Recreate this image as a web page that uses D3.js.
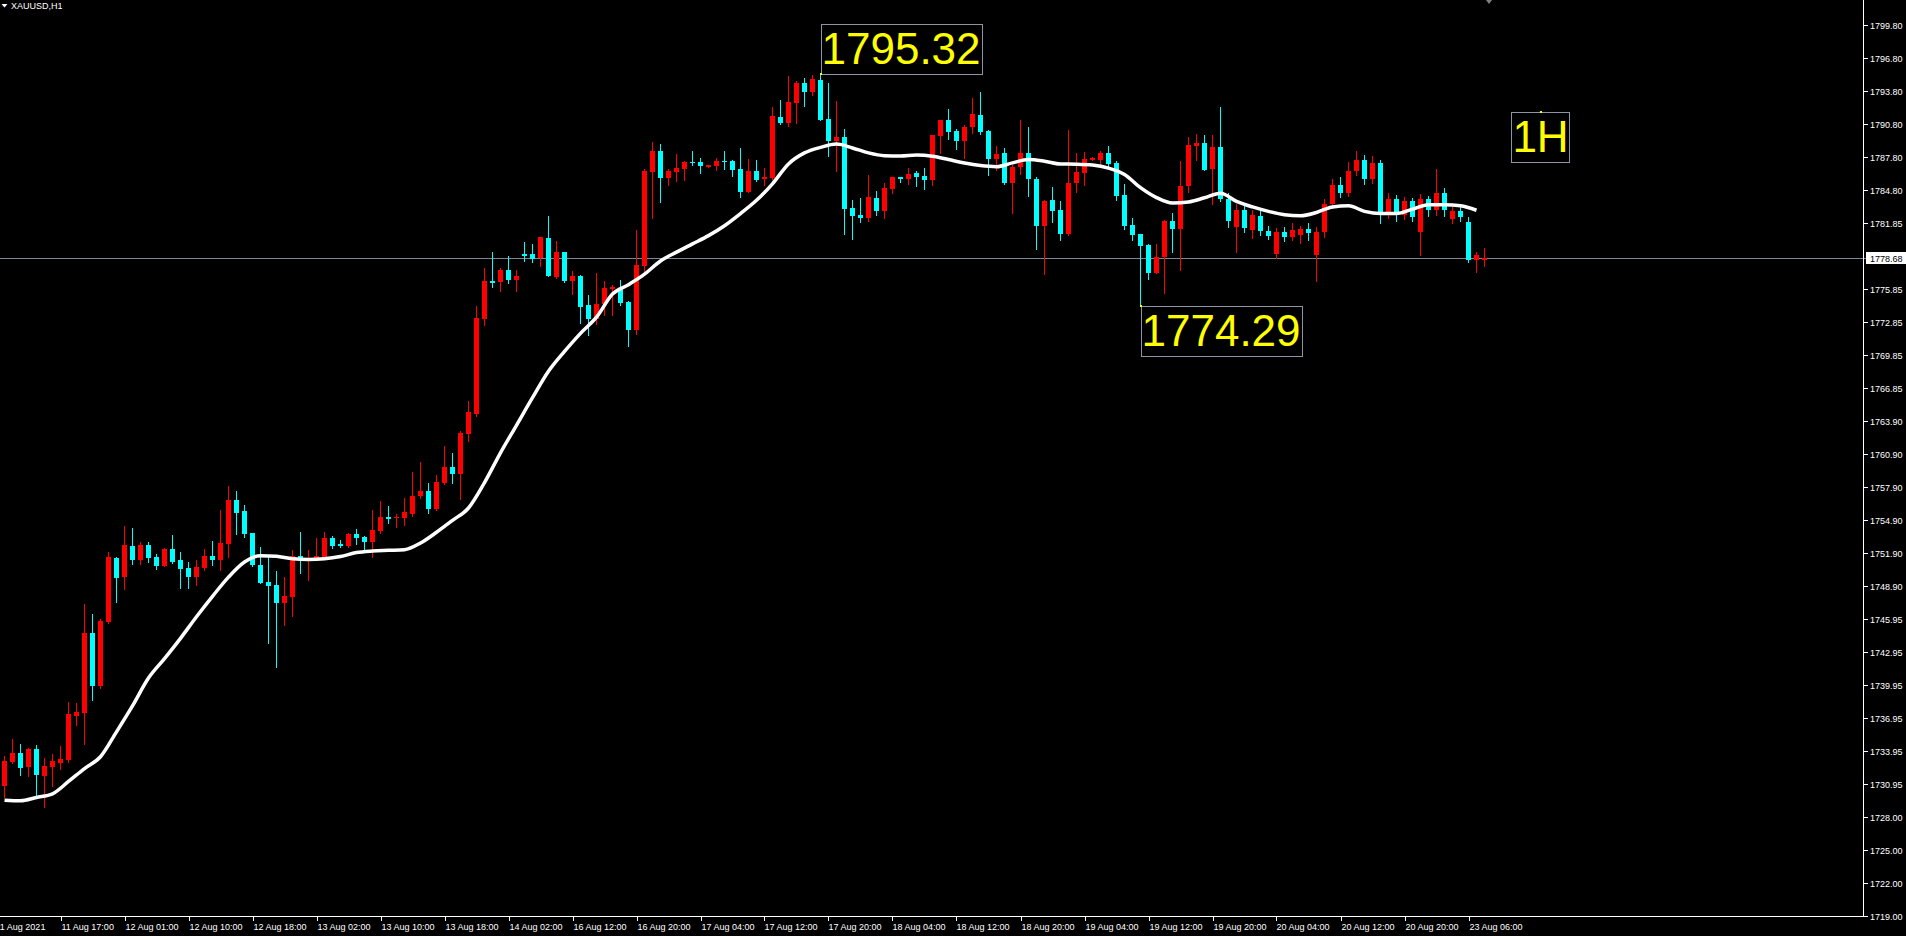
<!DOCTYPE html>
<html><head><meta charset="utf-8">
<script src="https://cdn.jsdelivr.net/npm/d3@7/dist/d3.min.js"></script>
<style>html,body{margin:0;padding:0;background:#000;overflow:hidden}</style>
</head><body><svg id="c" width="1906" height="936"></svg>
<script>
const symbolTitle = "XAUUSD,H1";
const open = [1730.81,1732.99,1733.78,1732.54,1734.14,1731.72,1732.54,1732.87,1733.17,1737.13,1737.43,1744.66,1739.88,1745.69,1751.46,1749.74,1752.55,1751.28,1752.64,1751.55,1750.73,1752.28,1751.28,1750.55,1749.77,1750.58,1751.64,1751.31,1752.76,1756.72,1755.72,1753.73,1750.82,1749.28,1749.01,1747.41,1747.95,1751.64,1751.20,1751.43,1751.58,1753.28,1752.76,1752.58,1753.64,1753.37,1752.94,1753.91,1755.18,1755.12,1755.12,1755.45,1757.12,1757.54,1755.91,1758.27,1759.72,1759.08,1762.71,1764.52,1773.14,1776.58,1776.46,1777.58,1776.67,1779.03,1779.03,1778.70,1780.48,1776.95,1779.21,1776.61,1777.04,1774.41,1773.17,1774.50,1775.86,1775.95,1774.68,1772.14,1777.94,1786.47,1788.37,1785.92,1786.47,1786.74,1787.37,1787.37,1786.92,1787.01,1787.46,1787.46,1786.74,1784.65,1786.56,1785.83,1785.92,1791.45,1790.91,1792.72,1794.54,1793.72,1794.81,1791.27,1789.28,1789.64,1783.20,1782.57,1782.29,1784.11,1782.93,1784.92,1786.01,1785.83,1786.38,1786.10,1785.74,1789.73,1791.18,1790.18,1789.28,1790.55,1791.64,1790.18,1787.65,1788.19,1785.47,1786.92,1788.19,1785.84,1781.57,1783.93,1783.02,1780.85,1785.47,1786.38,1787.56,1787.56,1788.19,1787.29,1784.38,1781.66,1780.85,1779.85,1777.31,1778.76,1782.03,1781.30,1785.20,1788.83,1789.10,1786.74,1788.74,1784.00,1781.50,1783.00,1781.20,1782.50,1781.10,1779.00,1781.00,1780.60,1780.80,1781.30,1778.90,1781.00,1783.60,1785.30,1784.60,1786.60,1787.60,1785.80,1787.30,1782.80,1784.00,1782.60,1783.80,1781.00,1784.00,1783.00,1784.60,1782.20,1782.90,1781.90,1778.50,1778.50];
const high = [1733.50,1735.05,1734.59,1734.23,1734.50,1733.32,1733.68,1734.41,1738.40,1738.31,1747.29,1746.38,1745.93,1752.00,1751.55,1754.36,1754.15,1752.91,1752.91,1751.82,1752.34,1753.55,1752.00,1751.10,1751.28,1752.28,1753.03,1755.81,1758.02,1757.54,1756.27,1753.73,1752.46,1751.55,1750.28,1749.74,1752.18,1753.82,1752.18,1753.28,1753.82,1753.46,1753.10,1753.73,1754.09,1753.46,1755.82,1756.63,1756.18,1755.45,1756.91,1759.26,1760.17,1758.27,1758.99,1761.62,1760.99,1762.98,1765.70,1774.32,1777.76,1779.21,1777.73,1778.85,1777.58,1780.12,1779.94,1780.57,1782.48,1780.21,1779.21,1777.49,1777.13,1775.31,1777.31,1776.58,1776.22,1776.67,1774.77,1781.21,1786.74,1789.19,1789.00,1786.74,1788.10,1787.46,1788.37,1787.73,1787.10,1787.73,1788.37,1787.55,1788.64,1787.64,1787.55,1786.83,1792.36,1792.99,1795.17,1794.72,1794.99,1795.26,1795.32,1794.54,1792.91,1790.37,1783.93,1784.11,1786.19,1784.74,1785.47,1786.01,1786.01,1786.83,1786.56,1786.83,1789.82,1791.18,1792.18,1790.37,1790.73,1793.18,1793.72,1790.28,1788.82,1788.64,1787.10,1791.18,1790.55,1786.02,1783.93,1785.11,1783.84,1790.28,1788.19,1788.28,1787.83,1788.37,1788.83,1787.47,1785.38,1782.30,1780.85,1779.94,1779.94,1782.12,1782.75,1787.47,1789.64,1789.92,1789.83,1789.83,1792.36,1784.60,1783.60,1783.50,1783.00,1782.90,1781.60,1781.40,1781.50,1781.80,1781.60,1781.80,1781.50,1784.00,1785.80,1786.00,1787.40,1788.40,1788.00,1787.90,1787.60,1784.60,1784.40,1784.20,1784.10,1784.50,1784.30,1786.70,1785.00,1783.30,1783.30,1782.40,1779.20,1779.60];
const low = [1729.82,1732.84,1731.78,1731.72,1729.91,1728.91,1730.81,1732.35,1732.99,1736.31,1734.62,1738.61,1739.70,1745.57,1747.50,1748.68,1750.95,1750.95,1751.10,1750.49,1750.73,1751.01,1748.77,1748.77,1749.04,1750.40,1750.85,1750.40,1751.58,1753.67,1753.39,1750.76,1749.22,1743.78,1741.60,1745.41,1746.23,1750.13,1749.49,1751.43,1751.43,1752.40,1752.49,1752.49,1752.76,1752.13,1751.58,1753.73,1754.64,1754.27,1754.46,1755.27,1756.94,1755.54,1755.82,1758.17,1758.27,1756.81,1762.07,1764.34,1772.59,1776.07,1775.71,1776.43,1775.71,1778.43,1778.31,1777.97,1777.07,1776.85,1776.52,1775.40,1772.77,1771.69,1772.68,1773.50,1773.50,1774.41,1770.72,1771.78,1777.49,1782.29,1783.74,1785.29,1785.65,1785.74,1787.10,1786.37,1786.92,1786.65,1786.74,1786.10,1784.20,1784.65,1785.65,1785.29,1785.83,1790.82,1790.64,1790.91,1792.45,1793.45,1791.18,1787.92,1786.56,1780.84,1780.39,1781.93,1782.02,1782.57,1782.29,1784.56,1785.56,1785.38,1785.20,1784.92,1785.29,1788.16,1789.46,1788.55,1787.74,1790.00,1789.91,1786.19,1786.65,1785.38,1782.75,1786.29,1784.29,1779.49,1777.25,1781.94,1780.30,1780.76,1784.66,1785.29,1787.56,1787.11,1787.01,1783.93,1781.30,1780.30,1774.29,1776.77,1777.31,1775.50,1779.22,1777.58,1784.66,1787.56,1786.65,1783.57,1783.80,1781.50,1779.20,1781.00,1780.50,1780.80,1780.40,1778.70,1780.20,1780.30,1780.00,1780.30,1776.60,1780.60,1783.20,1784.20,1784.30,1786.20,1785.40,1785.50,1781.80,1782.30,1782.00,1782.20,1782.00,1778.90,1782.50,1782.60,1782.50,1781.80,1782.00,1778.30,1777.40,1777.90];
const close = [1733.05,1733.78,1732.45,1734.14,1731.78,1732.60,1733.05,1733.23,1737.31,1737.49,1744.66,1739.88,1745.75,1751.55,1749.68,1752.64,1751.28,1752.64,1751.46,1750.76,1752.28,1751.10,1750.49,1749.77,1750.64,1751.64,1751.31,1752.82,1756.72,1755.57,1753.67,1750.85,1749.22,1748.95,1747.41,1748.01,1751.64,1751.40,1751.50,1751.65,1753.28,1752.58,1752.58,1753.64,1753.28,1752.94,1754.00,1755.18,1755.03,1755.18,1755.64,1757.09,1757.54,1755.91,1758.36,1759.72,1759.08,1762.80,1764.70,1773.23,1776.58,1776.43,1777.58,1776.67,1777.04,1778.88,1778.61,1780.57,1777.07,1779.21,1776.58,1777.04,1774.25,1773.14,1774.50,1775.95,1776.04,1774.59,1772.14,1778.03,1786.56,1788.37,1785.92,1786.56,1786.83,1787.37,1787.28,1787.01,1787.10,1787.46,1787.37,1786.65,1784.65,1786.56,1785.74,1786.01,1791.54,1790.91,1792.81,1794.54,1793.72,1794.90,1791.18,1789.28,1789.64,1783.11,1782.48,1782.29,1784.20,1782.93,1785.02,1786.01,1785.83,1786.29,1786.01,1785.74,1789.82,1791.18,1790.09,1789.28,1790.55,1791.73,1790.09,1787.65,1788.10,1785.47,1786.92,1788.19,1785.83,1781.57,1783.84,1782.93,1780.85,1785.47,1786.47,1787.65,1787.74,1788.19,1787.20,1784.29,1781.57,1780.76,1779.76,1777.31,1778.76,1782.03,1781.30,1785.20,1788.92,1789.10,1786.65,1788.74,1784.02,1782.00,1783.00,1781.40,1782.60,1781.10,1780.70,1781.00,1780.60,1781.20,1781.30,1780.90,1781.00,1783.60,1785.30,1784.60,1786.60,1787.60,1785.80,1787.30,1782.80,1784.00,1782.60,1783.80,1782.40,1784.00,1783.00,1784.60,1783.00,1782.90,1782.40,1778.50,1778.90,1778.68];
const maBar = [0,2,4,6,8,10,12,14,16,18,20,22,24,26,28,30,32,34,36,38,40,42,44,46,48,50,52,54,56,58,60,62,64,66,68,70,72,74,76,78,80,82,84,86,88,90,92,94,96,98,100,102,104,106,108,110,112,114,116,118,120,122,124,126,128,130,132,134,136,138,140,142,144,146,148,150,152,154,156,158,160,162,164,166,168,170,172,174,176,178,180,182,184];
const maValue = [1729.50,1729.45,1729.75,1730.08,1731.20,1732.37,1733.44,1735.70,1738.05,1740.58,1742.34,1744.18,1746.14,1747.99,1749.73,1751.10,1751.68,1751.62,1751.40,1751.34,1751.40,1751.60,1751.96,1752.10,1752.16,1752.22,1752.82,1753.80,1754.88,1756.00,1758.30,1761.00,1763.50,1766.00,1768.40,1770.20,1771.84,1773.30,1775.40,1776.25,1777.20,1778.40,1779.20,1779.95,1780.70,1781.60,1782.70,1783.90,1785.40,1787.20,1788.20,1788.70,1789.00,1788.65,1788.20,1787.95,1787.92,1788.01,1787.90,1787.60,1787.28,1787.05,1786.95,1787.30,1787.60,1787.45,1787.20,1787.18,1787.10,1786.82,1786.25,1785.05,1784.15,1783.65,1783.75,1784.13,1784.54,1783.80,1783.30,1782.90,1782.60,1782.50,1782.80,1783.30,1783.40,1782.90,1782.70,1782.70,1783.10,1783.50,1783.50,1783.40,1783.00];
const priceTicks = [1799.80,1796.80,1793.80,1790.80,1787.80,1784.80,1781.85,1775.85,1772.85,1769.85,1766.85,1763.90,1760.90,1757.90,1754.90,1751.90,1748.90,1745.95,1742.95,1739.95,1736.95,1733.95,1730.95,1728.00,1725.00,1722.00,1719.00];
const lastPrice = 1778.68;
const timeLabels = ["11 Aug 2021","11 Aug 17:00","12 Aug 01:00","12 Aug 10:00","12 Aug 18:00","13 Aug 02:00","13 Aug 10:00","13 Aug 18:00","14 Aug 02:00","16 Aug 12:00","16 Aug 20:00","17 Aug 04:00","17 Aug 12:00","17 Aug 20:00","18 Aug 04:00","18 Aug 12:00","18 Aug 20:00","19 Aug 04:00","19 Aug 12:00","19 Aug 20:00","20 Aug 04:00","20 Aug 12:00","20 Aug 20:00","23 Aug 06:00"];
const timeLabelBars = [0,7,15,23,31,39,47,55,63,71,79,87,95,103,111,119,127,135,143,151,159,167,175,183];
const annoText = ["1795.32","1774.29","1H"];
const annoBar = [102,142,192];
const annoPrice = [1795.32,1774.29,1791.9];
const annoAnchor = ["lowerLeft","upperLeft","upperCenter"];
const shiftBar = 185.5;

const W = 1906, H = 936;
const plotRight = 1863.5, plotBottom = 916.5;
const svg = d3.select("#c");
svg.append("rect").attr("width", W).attr("height", H).attr("fill", "#000");

const x = d3.scaleLinear().domain([0, 185]).range([4.5, 4.5 + 8 * 185]);
const y = d3.scaleLinear().domain([1719.00, 1799.80]).range([916, 25]);

const FONT = "'Liberation Sans', Arial, sans-serif";

// last price line
svg.append("line").attr("x1", 0).attr("x2", plotRight).attr("y1", Math.round(y(lastPrice)) + 0.5).attr("y2", Math.round(y(lastPrice)) + 0.5)
  .attr("stroke", "#778899").attr("stroke-width", 1);

// candles
const bars = d3.range(open.length);
const g = svg.append("g").attr("shape-rendering", "crispEdges");
const col = i => close[i] >= open[i] ? "#ff0000" : "#00ffff";
g.selectAll("rect.w").data(bars).join("rect").attr("class", "w")
  .attr("x", i => Math.round(x(i) - 0.5)).attr("width", 1)
  .attr("y", i => Math.round(y(high[i]))).attr("height", i => Math.max(1, Math.round(y(low[i])) - Math.round(y(high[i])) + 1))
  .attr("fill", col);
g.selectAll("rect.b").data(bars).join("rect").attr("class", "b")
  .attr("x", i => Math.round(x(i) - 2.5)).attr("width", 5)
  .attr("y", i => Math.round(y(Math.max(open[i], close[i]))))
  .attr("height", i => Math.max(1, Math.round(y(Math.min(open[i], close[i]))) - Math.round(y(Math.max(open[i], close[i])))))
  .attr("fill", col);

// moving average
const ma = d3.line().x((d, k) => x(maBar[k])).y(d => y(d)).curve(d3.curveMonotoneX);
svg.append("path").attr("d", ma(maValue)).attr("fill", "none").attr("stroke", "#ffffff").attr("stroke-width", 3.5).attr("stroke-linejoin", "round");

// frame
const fr = svg.append("g").attr("shape-rendering", "crispEdges");
fr.append("line").attr("x1", plotRight).attr("x2", plotRight).attr("y1", 0).attr("y2", plotBottom).attr("stroke", "#fff");
fr.append("line").attr("x1", 0).attr("x2", plotRight).attr("y1", plotBottom).attr("y2", plotBottom).attr("stroke", "#fff");

// chart shift marker
{
  const sx = Math.round(x(shiftBar));
  svg.append("path").attr("d", `M${sx - 3},0 L${sx + 3},0 L${sx},4 Z`).attr("fill", "#808080");
}

// price axis
priceTicks.forEach(p => {
  const yy = Math.round(y(p)) + 0.5;
  fr.append("line").attr("x1", plotRight).attr("x2", plotRight + 4).attr("y1", yy).attr("y2", yy).attr("stroke", "#fff");
  svg.append("text").attr("x", 1870).attr("y", yy + 3.5).attr("fill", "#fff").attr("font-family", FONT).attr("font-size", 9).text(p.toFixed(2));
});
{
  const yy = Math.round(y(lastPrice)) + 0.5;
  fr.append("line").attr("x1", plotRight).attr("x2", plotRight + 4).attr("y1", yy).attr("y2", yy).attr("stroke", "#778899");
  svg.append("rect").attr("x", 1866).attr("y", yy - 6.5).attr("width", 40).attr("height", 12).attr("fill", "#fff");
  svg.append("text").attr("x", 1870).attr("y", yy + 3.5).attr("fill", "#000").attr("font-family", FONT).attr("font-size", 9).text(lastPrice.toFixed(2));
}

// time axis
timeLabels.forEach((t, k) => {
  const xx = Math.round(x(timeLabelBars[k])) + 0.5;
  if (k > 0) {
    fr.append("line").attr("x1", xx).attr("x2", xx).attr("y1", plotBottom).attr("y2", plotBottom + 4).attr("stroke", "#fff");
    svg.append("text").attr("x", xx).attr("y", 930).attr("fill", "#fff").attr("font-family", FONT).attr("font-size", 9).text(t);
  } else {
    svg.append("text").attr("x", xx - 10).attr("y", 930).attr("fill", "#fff").attr("font-family", FONT).attr("font-size", 9).text(t);
  }
});

// title
svg.append("path").attr("d", "M1.5,4 L7.5,4 L4.5,7.5 Z").attr("fill", "#fff");
svg.append("text").attr("x", 11).attr("y", 9).attr("fill", "#fff").attr("font-family", FONT).attr("font-size", 9).text(symbolTitle);

// annotations
annoText.forEach((t, k) => {
  const ax = x(annoBar[k]), ay = Math.round(y(annoPrice[k]));
  const tg = svg.append("g");
  const tx = tg.append("text").attr("fill", "#ffff00").attr("font-family", FONT).attr("font-size", 44).text(t);
  const w = tx.node().getComputedTextLength() + 2;
  const h = 50;
  let bx, by;
  if (annoAnchor[k] === "lowerLeft") { bx = ax; by = ay - h; }
  else if (annoAnchor[k] === "upperLeft") { bx = ax; by = ay; }
  else { bx = ax - w / 2; by = ay; }
  tx.attr("x", bx + 1).attr("y", by + 40);
  tg.insert("rect", "text").attr("x", Math.round(bx) + 0.5).attr("y", by + 0.5).attr("width", Math.round(w)).attr("height", h)
    .attr("fill", "none").attr("stroke", "#8a96a6").attr("stroke-width", 1);
  tg.append("rect").attr("x", Math.round(ax) - 1).attr("y", ay - 1).attr("width", 2).attr("height", 2).attr("fill", "#ffff00");
});
</script></body></html>
